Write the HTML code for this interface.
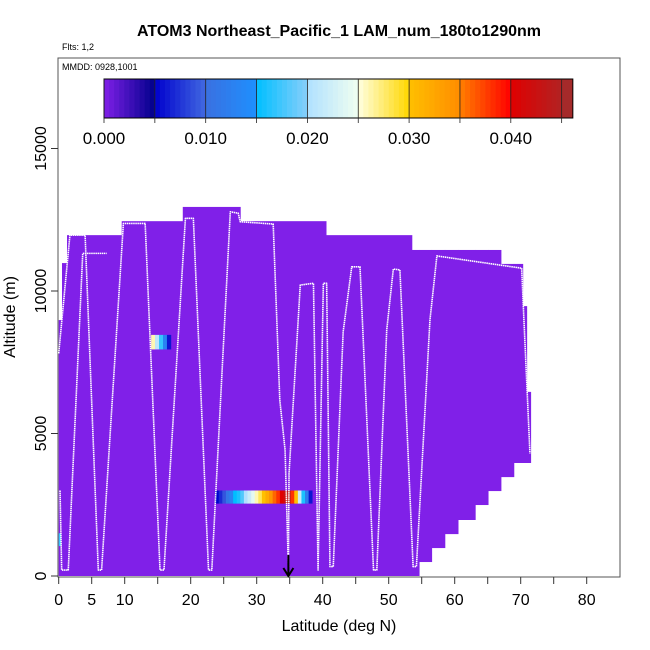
<!DOCTYPE html>
<html><head><meta charset="utf-8">
<style>
html,body{margin:0;padding:0;background:#fff;}
svg{display:block;font-family:"Liberation Sans",Arial,sans-serif;}
</style></head>
<body>
<svg id="chart" width="650" height="650" viewBox="0 0 650 650">
  <text x="339" y="36" text-anchor="middle" font-size="16" font-weight="bold">ATOM3 Northeast_Pacific_1 LAM_num_180to1290nm</text>
  <text x="62" y="50" font-size="9">Flts: 1,2</text>
  <rect x="58" y="58" width="562" height="519" fill="none" stroke="#555" stroke-width="1"/>
  <text x="62" y="70" font-size="9">MMDD: 0928,1001</text>
  <g id="cells"></g>
  <g id="track"></g>
  <g id="axes"></g>
  <g id="cbar"></g>
  <g id="arrow"></g>
  <text x="339" y="631" text-anchor="middle" font-size="16">Latitude (deg N)</text>
  <text transform="translate(15,317) rotate(-90)" text-anchor="middle" font-size="16">Altitude (m)</text>
</svg>
<script>
// ---- data ----
const colLatStart = [0, 0.5, 1.26, 9.55, 18.8, 27.5, 40.5, 53.5, 67, 70.3, 70.9];
const colLatEnd   = [0.5, 1.26, 9.55, 18.8, 27.5, 40.5, 53.5, 67, 70.3, 70.9, 71.5];
const colAltTop   = [8980, 10980, 11960, 12450, 12950, 12450, 11960, 11440, 10950, 9470, 6460];
const stepLat     = [54.6, 56.5, 58.5, 60.5, 63.1, 65.05, 67, 68.95];
const stepAltBottom = [490, 980, 1470, 1965, 2490, 2980, 3470, 3965];
const bgValue = 0.0;
const row1Lat = [14.0, 14.6, 15.2, 15.8, 16.4];
const row1Alt = [7950, 8460];
const row1Val = [0.026, 0.021, 0.017, 0.013, 0.006];
const row2Alt = [2540, 3000];
const row2LatStart = 23.7;
const row2LatStep = 0.545;
const row2Val = [0.005,0.007,0.009,0.011,0.013,0.015,0.016,0.018,0.020,0.022,0.024,0.026,0.028,0.030,0.032,0.034,0.036,0.038,0.040,0.042,0.044,0.038,0.030,0.022,0.016,0.012,0.006];
const spotLat = [0, 0.35]; const spotAlt = [1050, 1500]; const spotVal = 0.017;
const track1Lat = [0,1.7,4.0,6.0,6.5,9.8,13.1,15.35,15.95,19.2,20.4,22.7,23.2,26.0,27.2,27.5,32.5,33.5,34.3,34.8,34.9,36.6,38.6,39.3,40.1,40.6,41.1,41.6,43.1,44.4,45.65,47.7,48.2,49.7,50.7,51.7,53.7,54.2,56.25,57.3,70.15,70.4,71.4];
const track1Alt = [7810,11960,11960,210,210,12370,12370,210,210,12550,12550,210,210,12780,12730,12430,12350,6175,4420,300,3600,10210,10270,210,10270,10270,330,330,8570,10850,10850,210,210,8630,10770,10740,330,330,8980,11230,10800,9450,4300];
const track2Lat = [0.2,0.45,1.45,3.64,7.27];
const track2Alt = [3000,210,210,11320,11320];
const xTicks = [0,5,10,15,20,25,30,35,40,45,50,55,60,65,70,75,80];
const xTickLabels = ["0","5","10","","20","","30","","40","","50","","60","","70","","80"];
const yTicks = [0,5000,10000,15000];
const cbTicks = [0,0.005,0.01,0.015,0.02,0.025,0.03,0.035,0.04,0.045];
const cbLabels = [0,0.01,0.02,0.03,0.04];
const arrowLat = 34.8;

// ---- scales ----
const X = v => 58.7 + v*6.6;
const Y = v => 576 - v*0.0285;
const CB = v => 104 + v*10170;
const NS='http://www.w3.org/2000/svg';
function mk(tag, parent, attrs){const e=document.createElementNS(NS,tag);for(const k in attrs)e.setAttribute(k,attrs[k]);parent.appendChild(e);return e;}
const segs=[["#8020E8","#00008B"],["#0000CD","#4169E1"],["#3A70E0","#1E90FF"],["#00BFFF","#87CEFA"],["#B0E0FF","#F0FFF0"],["#FFFFE0","#FFD700"],["#FFC000","#FF8C00"],["#FF7F00","#FF0000"],["#E00000","#B22222"],["#A52A2A","#A52A2A"]];
function hx(h){return [1,3,5].map(i=>parseInt(h.substr(i,2),16));}
function color(v){let i=Math.min(9,Math.floor(v/0.005));let t=(v-i*0.005)/0.005;t=Math.max(0,Math.min(1,t));const a=hx(segs[i][0]),b=hx(segs[i][1]);return 'rgb('+a.map((c,k)=>Math.round(c+(b[k]-c)*t)).join(',')+')';}
function bottomAt(lat){let b=0;for(let i=0;i<stepLat.length;i++){if(lat>=stepLat[i])b=stepAltBottom[i];}return b;}

// ---- heatmap ----
const cells=document.getElementById('cells');
colLatStart.forEach((s,i)=>{
  let edges=[s];stepLat.forEach(l=>{if(l>s&&l<colLatEnd[i])edges.push(l);});edges.push(colLatEnd[i]);
  for(let j=0;j<edges.length-1;j++){
    const b=bottomAt(edges[j]);
    const r=mk('rect',cells,{x:X(edges[j]),y:Y(colAltTop[i]),width:X(edges[j+1])-X(edges[j])+0.5,height:Y(b)-Y(colAltTop[i]),fill:color(bgValue)});
    
    
  }
});
row1Val.forEach((v,i)=>{
  const r=mk('rect',cells,{x:X(row1Lat[i]),y:Y(row1Alt[1]),width:X(row1Lat[i]+0.6)-X(row1Lat[i])+0.3,height:Y(row1Alt[0])-Y(row1Alt[1]),fill:color(v)});
  
  
});
row2Val.forEach((v,i)=>{
  const la=row2LatStart+i*row2LatStep;
  const r=mk('rect',cells,{x:X(la),y:Y(row2Alt[1]),width:X(la+row2LatStep)-X(la)+0.3,height:Y(row2Alt[0])-Y(row2Alt[1]),fill:color(v)});
  
  
});
{const r=mk('rect',cells,{x:X(spotLat[0]),y:Y(spotAlt[1]),width:X(spotLat[1])-X(spotLat[0]),height:Y(spotAlt[0])-Y(spotAlt[1]),fill:color(spotVal)});

}

// ---- track ----
const tr=document.getElementById('track');
[[track1Lat,track1Alt],[track2Lat,track2Alt]].forEach(([la,al],k)=>{
  const p=mk('polyline',tr,{points:la.map((v,i)=>X(v)+','+Y(al[i])).join(' '),fill:'none',stroke:'#fff','stroke-width':1.6,'stroke-dasharray':'1.5 0.6','stroke-linejoin':'round'});
  
  
});

// ---- axes ----
const ax=document.getElementById('axes');
xTicks.forEach((t,i)=>{
  const l=mk('line',ax,{x1:X(t),x2:X(t),y1:577,y2:584,stroke:'#333'});
  
  
  if(xTickLabels[i]){const tx=mk('text',ax,{x:X(t),y:605,'text-anchor':'middle','font-size':16});tx.textContent=xTickLabels[i];
  
  }
});
yTicks.forEach(t=>{
  const l=mk('line',ax,{x1:51,x2:58,y1:Y(t),y2:Y(t),stroke:'#333'});
  
  
  const tx=mk('text',ax,{transform:'translate(46,'+Y(t)+') rotate(-90)','text-anchor':'middle','font-size':16});tx.textContent=String(t);
  
  
});

// ---- colorbar ----
const cb=document.getElementById('cbar');
const cbMax=0.0461;
for(let v=0;v<cbMax-1e-9;v+=0.0005){
  const w=Math.min(CB(v+0.0005),CB(cbMax))-CB(v);
  const r=mk('rect',cb,{x:CB(v),y:79,width:w+(v+0.0005<cbMax?0.4:0),height:39,fill:color(v+0.00025)});
  
  
}
{const f=mk('rect',cb,{x:CB(0),y:79,width:CB(cbMax)-CB(0),height:39,fill:'none',stroke:'#000'});

}
cbTicks.forEach(t=>{
  const l=mk('line',cb,{x1:CB(t),x2:CB(t),y1:79,y2:123,stroke:'#222','stroke-width':0.8});
  
  
});
cbLabels.forEach(t=>{
  const tx=mk('text',cb,{x:CB(t),y:144,'text-anchor':'middle','font-size':17});tx.textContent=t.toFixed(3);
  
  
});

// ---- arrow ----
const ar=document.getElementById('arrow');
mk('line',ar,{x1:X(arrowLat),x2:X(arrowLat),y1:555,y2:575,stroke:'#000','stroke-width':2});
mk('polyline',ar,{points:(X(arrowLat)-5)+',568 '+X(arrowLat)+',576 '+(X(arrowLat)+5)+',568',fill:'none',stroke:'#000','stroke-width':2});
</script>
</body></html>
